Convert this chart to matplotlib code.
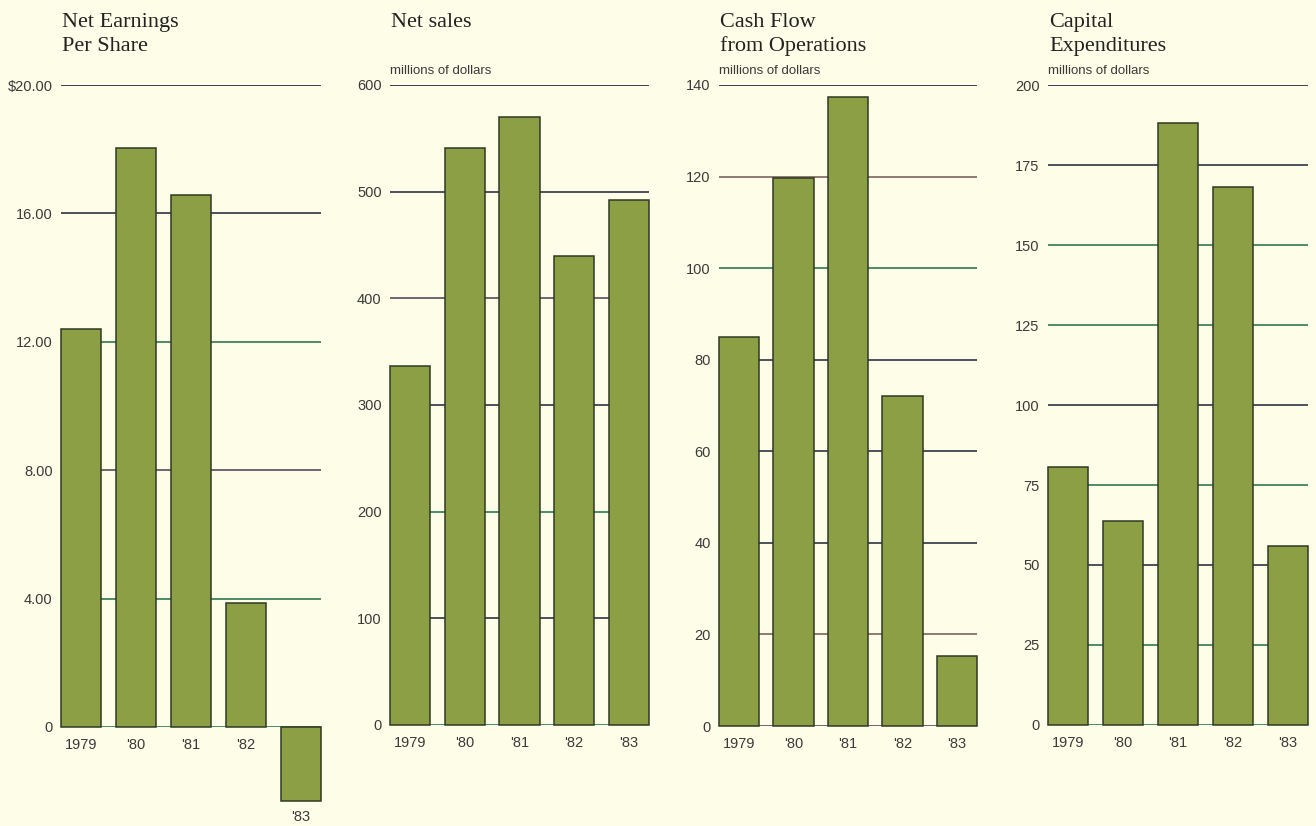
import matplotlib
matplotlib.use("Agg")
import matplotlib.pyplot as plt

# ---------------- data ----------------
years = ["1979", "'80", "'81", "'82", "'83"]

eps_values = [12.40, 18.03, 16.58, 3.86, -2.31]          # Net Earnings Per Share ($)
sales_values = [337, 541, 570, 440, 492]                  # Net sales (millions)
cashflow_values = [85.0, 119.7, 137.4, 72.0, 15.2]        # Cash Flow from Operations
capex_values = [80.6, 63.8, 188.2, 168.2, 55.9]           # Capital Expenditures

eps_ticks = [0, 4, 8, 12, 16, 20]
eps_tick_labels = ["0", "4.00", "8.00", "12.00", "16.00", "$20.00"]
sales_ticks = [0, 100, 200, 300, 400, 500, 600]
cashflow_ticks = [0, 20, 40, 60, 80, 100, 120, 140]
capex_ticks = [0, 25, 50, 75, 100, 125, 150, 175, 200]

titles = [["Net Earnings", "Per Share"], ["Net sales"], ["Cash Flow", "from Operations"],
          ["Capital", "Expenditures"]]
subtitles = ["", "millions of dollars", "millions of dollars", "millions of dollars"]

# ---------------- style ----------------
BG = "#fefde7"
BAR = "#8c9f44"
EDGE = "#2f3824"
TXT = "#3a3a3a"
DARK = "#2e3344"
GREEN = "#2f7a52"
PURP = "#5a4a5c"
BROWN = "#7d6460"

grid_colors = [
    [GREEN, GREEN, PURP, GREEN, DARK, DARK],
    [GREEN, DARK, GREEN, DARK, PURP, DARK, DARK],
    [PURP, BROWN, DARK, DARK, DARK, GREEN, BROWN, DARK],
    [GREEN, GREEN, DARK, GREEN, DARK, GREEN, GREEN, DARK, DARK],
]

W, H = 1316, 826
fig = plt.figure(figsize=(W / 100, H / 100), dpi=100, facecolor=BG)

# pixel boxes: left, right, y of top tick, y of zero
boxes = [(61, 321, 85, 727), (390, 649, 85, 725), (719, 977, 85, 726), (1048, 1308, 85, 725)]
data = [eps_values, sales_values, cashflow_values, capex_values]
ticks = [eps_ticks, sales_ticks, cashflow_ticks, capex_ticks]
tick_labels = [eps_tick_labels, [str(t) for t in sales_ticks],
               [str(t) for t in cashflow_ticks], [str(t) for t in capex_ticks]]

bw = 0.738
sans = ["Liberation Sans", "DejaVu Sans"]
serif = ["Liberation Serif", "DejaVu Serif"]
title_baselines = [27, 51]

for i in range(4):
    l, r, top, zero = boxes[i]
    ax = fig.add_axes([l / W, (H - zero) / H, (r - l) / W, (zero - top) / H])
    ax.set_facecolor("none")
    vals = data[i]
    tk = ticks[i]
    ax.set_xlim(-bw / 2, 4 + bw / 2)
    ax.set_ylim(0, tk[-1])
    for t, c in zip(tk, grid_colors[i]):
        ax.axhline(t, color=c, lw=1.3 if t == tk[-1] else 1.2, zorder=1)
    ax.bar(range(5), vals, width=bw, color=BAR, edgecolor=EDGE, linewidth=1.1,
           zorder=2, clip_on=False)
    for s in ax.spines.values():
        s.set_visible(False)
    ax.set_yticks(tk, tick_labels[i])
    xl = years[:4] + [""] if i == 0 else years
    ax.set_xticks(range(5), xl)
    ax.tick_params(axis="y", length=0, pad=6, labelsize=10.5, labelcolor=TXT)
    ax.tick_params(axis="x", length=0, pad=8, labelsize=10.5, labelcolor=TXT)
    for lab in ax.get_xticklabels() + ax.get_yticklabels():
        lab.set_family(sans)
    if i == 0:
        ax.annotate(years[4], xy=(4, vals[4]), xytext=(0, -9), textcoords="offset pixels",
                    ha="center", va="top", fontsize=10.5, color=TXT, family=sans,
                    annotation_clip=False)
    # titles, one line at a time
    for line, yb in zip(titles[i], title_baselines):
        fig.text((l + 1) / W, 1 - yb / H, line, ha="left", va="baseline", fontsize=16,
                 family=serif, color="#222222")
    if subtitles[i]:
        fig.text(l / W, 1 - 74 / H, subtitles[i], ha="left", va="baseline", fontsize=9.5,
                 family=sans, color=TXT)

fig.savefig("out.png", dpi=100, facecolor=BG)
